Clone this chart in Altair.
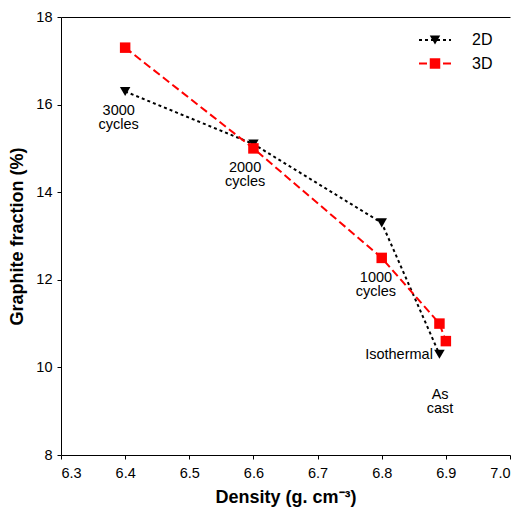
import altair as alt
import pandas as pd

# ---- data ----
density_2d = [6.4, 6.6, 6.8, 6.89]
graphite_2d = [16.3, 15.1, 13.3, 10.3]
density_3d = [6.4, 6.6, 6.8, 6.89, 6.9]
graphite_3d = [17.3, 15.0, 12.5, 11.0, 10.6]

series_names = ["2D", "3D"]
series_colors = ["#000000", "#ff0000"]
series_dashes = [[3, 3], [8, 4]]
series_shapes = ["triangle-down", "square"]

# annotation anchors (first line of each label)
label_text = ["3000\ncycles", "2000\ncycles", "1000\ncycles", "Isothermal", "As\ncast"]
label_x = [6.390, 6.587, 6.791, 6.827, 6.891]
label_y = [15.86, 14.56, 12.05, 10.29, 9.38]

x_ticks = [6.3, 6.4, 6.5, 6.6, 6.7, 6.8, 6.9, 7.0]
y_ticks = [8, 10, 12, 14, 16, 18]

FONT = "Liberation Sans"

df = pd.DataFrame({
    "density": density_2d + density_3d,
    "graphite": graphite_2d + graphite_3d,
    "series": ["2D"] * len(density_2d) + ["3D"] * len(density_3d),
})
labels = pd.DataFrame({"density": label_x, "graphite": label_y, "text": label_text})

x_scale = alt.Scale(domain=[6.3, 7.0], nice=False, zero=False)
y_scale = alt.Scale(domain=[8, 18], nice=False, zero=False)
color_scale = alt.Scale(domain=series_names, range=series_colors)
dash_scale = alt.Scale(domain=series_names, range=series_dashes)
shape_scale = alt.Scale(domain=series_names, range=series_shapes)

LEG_X = 366
LEG_Y = 15

line_legend = alt.Legend(
    title=None, orient="none", legendX=LEG_X, legendY=LEG_Y, padding=0,
    symbolType="M-3.2,0L3.2,0", symbolSize=100, symbolStrokeWidth=2,
    labelFontSize=16, labelFont=FONT, labelColor="#000000", labelOffset=29,
    rowPadding=7.5,
)
point_legend = alt.Legend(
    title=None, orient="none", legendX=LEG_X, legendY=LEG_Y, padding=0,
    symbolSize=110, symbolStrokeWidth=0,
    labelFontSize=16, labelFont=FONT, labelOpacity=0, labelOffset=29,
    rowPadding=7.5,
)

y_enc = alt.Y(
    "graphite:Q", scale=y_scale,
    axis=alt.Axis(
        values=y_ticks, format="d", grid=False, tickSize=4, labelPadding=5,
        labelFontSize=14.5, labelFont=FONT, labelColor="#000000",
        domainColor="#000000", tickColor="#000000",
        title="Graphite fraction (%)", titleFontSize=18, titleFont=FONT,
        titleFontWeight="bold", titleColor="#000000",
        titleX=-44, titleY=219, titleAngle=270, titleAlign="center",
        titleBaseline="middle",
    ),
)

lines = alt.Chart(df).mark_line(strokeWidth=2).encode(
    x=alt.X(
        "density:Q", scale=x_scale,
        axis=alt.Axis(
            values=x_ticks, format=".1f", grid=False, tickSize=4, labelPadding=7,
            labelFontSize=14.5, labelFont=FONT, labelColor="#000000",
            domainColor="#000000", tickColor="#000000",
            title="Density (g. cm⁻³)", titleFontSize=18, titleFont=FONT,
            titleFontWeight="bold", titleColor="#000000",
            titleY=42, titleBaseline="middle",
        ),
    ),
    y=y_enc,
    color=alt.Color("series:N", scale=color_scale, legend=line_legend),
    strokeDash=alt.StrokeDash("series:N", scale=dash_scale, legend=line_legend),
)

points = alt.Chart(df).mark_point(filled=True, size=110, opacity=1, strokeWidth=0).encode(
    x=alt.X(
        "density:Q", scale=x_scale,
        axis=alt.Axis(orient="top", labels=False, ticks=False, title=None,
                      grid=False, domainColor="#000000"),
    ),
    y=y_enc,
    color=alt.Color("series:N", scale=color_scale, legend=point_legend),
    shape=alt.Shape("series:N", scale=shape_scale, legend=point_legend),
)

texts = alt.Chart(labels).mark_text(
    font=FONT, fontSize=14.5, lineBreak="\n", lineHeight=14.5,
    align="center", baseline="middle", color="#000000",
).encode(
    x=alt.X("density:Q", scale=x_scale, axis=None),
    y=y_enc,
    text="text:N",
)

chart = (
    alt.layer(lines, points, texts)
    .resolve_axis(x="independent")
    .resolve_legend(color="independent", shape="independent", strokeDash="independent")
    .properties(
        width=449, height=438,
        autosize=alt.AutoSizeParams(type="none"),
        padding={"left": 61, "top": 17, "right": 12, "bottom": 59},
    )
    .configure_view(stroke=None)
)

chart.save("out.html", embed_options={"renderer": "svg", "actions": False})
